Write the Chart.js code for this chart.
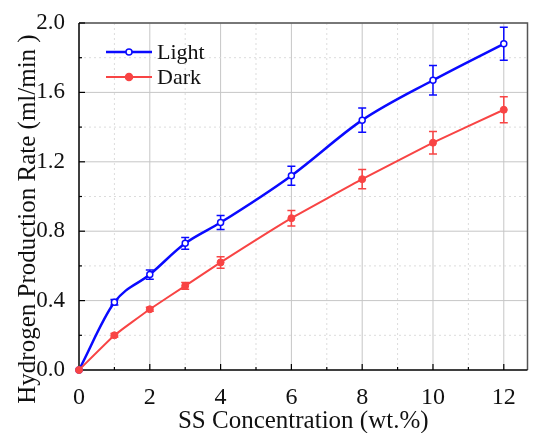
<!DOCTYPE html>
<html lang="en">
<head>
<meta charset="UTF-8">
<title>Hydrogen Production Rate vs SS Concentration</title>
<script src="https://cdn.jsdelivr.net/npm/chart.js"></script>
<style>
  html, body { margin: 0; padding: 0; background: #fff; }
  #wrap { width: 533px; height: 433px; }
</style>
</head>
<body>
<div id="wrap"><canvas id="chart"></canvas></div>
<script>
// data
const concentration = [0, 1, 2, 3, 4, 6, 8, 10, 12];
const lightRate = [0, 0.39, 0.55, 0.73, 0.85, 1.12, 1.44, 1.67, 1.88];
const lightErr  = [0, 0.016, 0.027, 0.034, 0.04, 0.055, 0.07, 0.085, 0.095];
const darkRate  = [0, 0.20, 0.35, 0.485, 0.62, 0.875, 1.10, 1.31, 1.50];
const darkErr   = [0, 0.01, 0.012, 0.02, 0.033, 0.045, 0.055, 0.065, 0.075];
const xTickLabels = ['0', '2', '4', '6', '8', '10', '12'];
const yTickLabels = ['0.0', '0.4', '0.8', '1.2', '1.6', '2.0'];
const yTitle = 'Hydrogen Production Rate (ml/min )';

const BLUE = '#0a0aff';
const RED = '#f84444';
const FONT = '"Liberation Serif", "Times New Roman", serif';

// grid, box, inward ticks, error bars, legend, y title
const framePlugin = {
  id: 'frame',
  beforeDatasetsDraw(chart) {
    const { ctx, chartArea: a, scales: { x, y } } = chart;
    ctx.save();
    ctx.lineWidth = 1;
    for (let v = 1; v <= 12; v++) {
      const px = x.getPixelForValue(v);
      ctx.strokeStyle = v % 2 === 0 ? '#c6c6c6' : '#dcdcdc';
      ctx.setLineDash(v % 2 === 0 ? [] : [2, 3]);
      ctx.beginPath(); ctx.moveTo(px, a.top); ctx.lineTo(px, a.bottom); ctx.stroke();
    }
    for (let i = 1; i <= 10; i++) {
      const py = y.getPixelForValue(i * 0.2);
      ctx.strokeStyle = i % 2 === 0 ? '#c6c6c6' : '#dcdcdc';
      ctx.setLineDash(i % 2 === 0 ? [] : [2, 3]);
      ctx.beginPath(); ctx.moveTo(a.left, py); ctx.lineTo(a.right, py); ctx.stroke();
    }
    ctx.setLineDash([]);
    ctx.strokeStyle = '#555';
    ctx.lineWidth = 1.5;
    ctx.beginPath();
    ctx.moveTo(a.left, a.top); ctx.lineTo(a.right, a.top); ctx.lineTo(a.right, a.bottom);
    ctx.stroke();
    ctx.strokeStyle = '#000';
    ctx.beginPath();
    ctx.moveTo(a.left, a.top); ctx.lineTo(a.left, a.bottom); ctx.lineTo(a.right, a.bottom);
    ctx.stroke();
    ctx.lineWidth = 1.2;
    for (let v = 1; v <= 12; v++) {
      const px = x.getPixelForValue(v);
      const len = v % 2 === 0 ? 6 : 3;
      ctx.beginPath(); ctx.moveTo(px, a.bottom); ctx.lineTo(px, a.bottom - len); ctx.stroke();
    }
    for (let i = 1; i <= 10; i++) {
      const py = y.getPixelForValue(i * 0.2);
      const len = i % 2 === 0 ? 6 : 3;
      ctx.beginPath(); ctx.moveTo(a.left, py); ctx.lineTo(a.left + len, py); ctx.stroke();
    }
    chart.data.datasets.forEach((ds, di) => {
      const meta = chart.getDatasetMeta(di);
      ctx.strokeStyle = ds.borderColor;
      ctx.lineWidth = 1.5;
      meta.data.forEach((pt, j) => {
        const e = ds.errors[j];
        if (!e) return;
        const t = y.getPixelForValue(ds.data[j] + e);
        const b = y.getPixelForValue(ds.data[j] - e);
        ctx.beginPath();
        ctx.moveTo(pt.x, t); ctx.lineTo(pt.x, b);
        ctx.moveTo(pt.x - 4, t); ctx.lineTo(pt.x + 4, t);
        ctx.moveTo(pt.x - 4, b); ctx.lineTo(pt.x + 4, b);
        ctx.stroke();
      });
    });
    ctx.restore();
  },
  afterDraw(chart) {
    const { ctx } = chart;
    ctx.save();
    ctx.font = '22px ' + FONT;
    ctx.textBaseline = 'middle';
    chart.data.datasets.forEach((ds, i) => {
      const yy = 52 + i * 25;
      ctx.strokeStyle = ds.borderColor;
      ctx.lineWidth = ds.borderWidth;
      ctx.beginPath(); ctx.moveTo(106, yy); ctx.lineTo(152, yy); ctx.stroke();
      ctx.fillStyle = ds.pointBackgroundColor;
      ctx.lineWidth = 1.5;
      ctx.beginPath(); ctx.arc(129, yy, ds.pointRadius, 0, Math.PI * 2); ctx.fill(); ctx.stroke();
      ctx.fillStyle = '#111';
      ctx.fillText(ds.label, 157, yy + 1);
    });
    // y axis title, set a bit below the plot centre as in the figure
    ctx.translate(35, 219);
    ctx.rotate(-Math.PI / 2);
    ctx.font = '25px ' + FONT;
    ctx.textAlign = 'center';
    ctx.textBaseline = 'alphabetic';
    ctx.fillText(yTitle, 0, 0);
    ctx.restore();
  }
};

new Chart(document.getElementById('chart'), {
  type: 'line',
  data: {
    labels: concentration,
    datasets: [
      {
        label: 'Light',
        data: lightRate,
        errors: lightErr,
        order: 1,
        borderColor: BLUE,
        borderWidth: 2.5,
        pointRadius: 3,
        pointBackgroundColor: '#fff',
        pointBorderColor: BLUE,
        pointBorderWidth: 1.5,
        cubicInterpolationMode: 'monotone',
        clip: false
      },
      {
        label: 'Dark',
        data: darkRate,
        errors: darkErr,
        order: 0,
        borderColor: RED,
        borderWidth: 2,
        pointRadius: 3.5,
        pointBackgroundColor: RED,
        pointBorderColor: RED,
        pointBorderWidth: 1,
        tension: 0.1,
        clip: false
      }
    ]
  },
  options: {
    responsive: true,
    maintainAspectRatio: false,
    animation: false,
    layout: { padding: { left: 0, top: 23, right: 2, bottom: 0 } },
    plugins: { legend: { display: false }, tooltip: { enabled: false } },
    scales: {
      x: {
        type: 'linear',
        min: 0,
        max: 12.67,
        afterBuildTicks: s => { s.ticks = xTickLabels.map(t => ({ value: Number(t) })); },
        afterFit: s => { s.height = 63; },
        grid: { display: false },
        border: { display: false },
        ticks: {
          padding: 5,
          color: '#111',
          font: { family: FONT, size: 24 },
          callback: v => String(v)
        },
        title: {
          display: true,
          text: 'SS Concentration (wt.%)',
          color: '#111',
          font: { family: FONT, size: 25 },
          padding: { top: 0, bottom: -3 }
        }
      },
      y: {
        min: 0,
        max: 2,
        afterBuildTicks: s => { s.ticks = yTickLabels.map(t => ({ value: Number(t) })); },
        afterFit: s => { s.width = 79; },
        grid: { display: false },
        border: { display: false },
        ticks: {
          padding: 6,
          color: '#111',
          font: { family: FONT, size: 23 },
          callback: v => v.toFixed(1)
        },
        title: { display: false }
      }
    }
  },
  plugins: [framePlugin]
});
</script>
</body>
</html>
